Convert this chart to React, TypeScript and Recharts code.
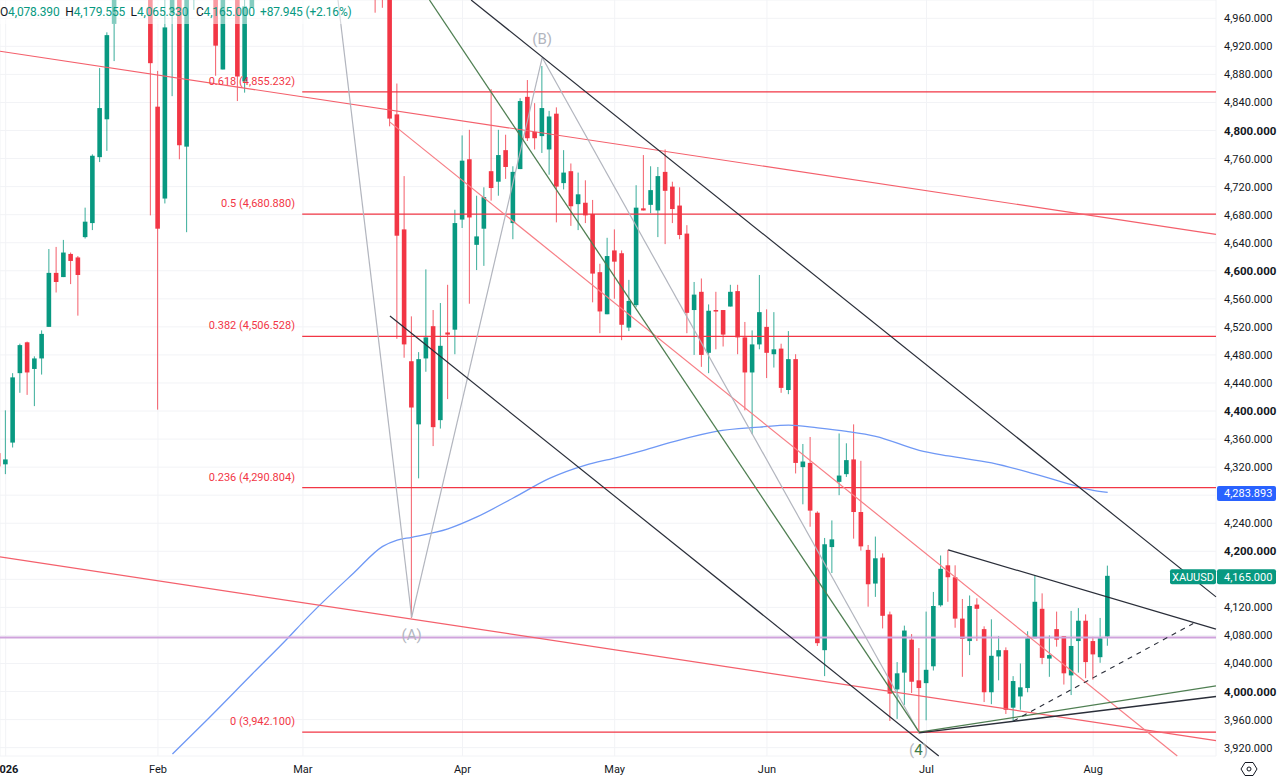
import {
  Bar,
  CartesianGrid,
  ComposedChart,
  Line,
  ReferenceDot,
  ReferenceLine,
  XAxis,
  YAxis,
} from "recharts";

const UP = "#089981";
const DOWN = "#f23645";
const FONT = "Roboto, sans-serif";

// candles, first entry is one session before the 2026 tick; null = above the visible range
const firstIndex = -1;
const n = null;
const opens = [
  4340,
  4324, 4355, 4454, 4498, 4460, 4475, 4520, 4597, 4591, 4624,
  4619, 4648, 4668, 4762, 4816, 4952, n, n, n, n,
  5010, 4834, 4703, 4967, 5010, 4777, 5010, n, n, 5010,
  4887, n, 5010, 4870, 4975, n, n, n, n, n,
  n, n, n, n, n, n, n, n, n, n,
  n, 5010, 5010, 5010, 4823, 4659, 4471, 4381, 4475, 4521,
  4387, 4512, 4516, 4673, 4759, 4637, 4660, 4742, 4727, 4772,
  4668, 4745, 4848, 4798, 4792, 4773, 4824, 4725, 4742, 4695,
  4697, 4681, 4598, 4538, 4629, 4625, 4519, 4551, 4689, 4694,
  4686, 4741, 4720, 4693, 4653, 4544, 4570, 4483, 4544, 4544,
  4549, 4571, 4505, 4455, 4495, 4520, 4481, 4489, 4430, 4474,
  4320, 4326, 4255, 4059, 4206, 4299, 4310, 4331, 4256, 4202,
  4154, 4191, 4110, 4003, 4027, 4074, 4016, 4012, 4036, 4123,
  4180, 4163, 4104, 4072, 4124, 4089, 3999, 4050, 4059, 3977,
  3993, 4005, 4076, 4118, 4047, 4089, 4079, 4023, 4072, 4101,
  4072, 4049, 4078.39,
];
const highs = [
  4345,
  4401, 4454, 4496, 4499, 4478, 4515, 4631, 4634, 4644, 4626,
  4621, 4690, 4766, 4889, 4940, 5020, n, n, n, n,
  5030, 4885, 4990, 5030, 5030, 5030, 5030, n, n, 5030,
  5030, n, 5030, 5030, 5030, n, n, n, n, n,
  n, n, n, n, n, n, n, n, n, n,
  n, 5030, 5030, 5030, 4867, 4735, 4535, 4484, 4602, 4544,
  4554, 4580, 4687, 4793, 4801, 4707, 4719, 4859, 4801, 4794,
  4749, 4846, 4872, 4839, 4892, 4828, 4833, 4772, 4753, 4740,
  4729, 4701, 4610, 4647, 4659, 4629, 4587, 4722, 4765, 4749,
  4748, 4773, 4727, 4719, 4665, 4584, 4589, 4552, 4570, 4544,
  4580, 4580, 4527, 4515, 4594, 4545, 4541, 4496, 4514, 4481,
  4353, 4363, 4257, 4219, 4244, 4368, 4354, 4381, 4329, 4209,
  4221, 4197, 4114, 4042, 4094, 4082, 4062, 4114, 4142, 4194,
  4202, 4180, 4132, 4137, 4133, 4093, 4103, 4079, 4063, 4022,
  4040, 4086, 4165, 4140, 4080, 4114, 4079, 4115, 4119, 4110,
  4078, 4105, 4179.555,
];
const lows = [
  4316,
  4310, 4348, 4426, 4423, 4407, 4452, 4520, 4569, 4591, 4581,
  4536, 4646, 4658, 4755, 4771, 4899, n, n, n, n,
  4679, 4402, 4696, 4849, 4759, 4655, 4972, n, n, 4878,
  4887, n, 4842, 4854, 4975, n, n, n, n, n,
  n, n, n, n, n, n, n, n, n, n,
  n, 4968, 4975, 4806, 4503, 4476, 4105, 4304, 4456, 4350,
  4375, 4417, 4481, 4661, 4553, 4601, 4607, 4700, 4707, 4731,
  4645, 4745, 4785, 4773, 4768, 4737, 4669, 4716, 4664, 4658,
  4668, 4555, 4511, 4538, 4560, 4501, 4514, 4548, 4686, 4682,
  4648, 4638, 4668, 4645, 4511, 4480, 4463, 4454, 4488, 4492,
  4549, 4481, 4401, 4367, 4488, 4447, 4462, 4426, 4424, 4311,
  4267, 4235, 4065, 4022, 4169, 4280, 4306, 4218, 4201, 4121,
  4135, 4090, 3958, 3961, 3981, 3998, 3940, 3959, 4030, 4121,
  4128, 4091, 4021, 4052, 4072, 3985, 3982, 4016, 3968, 3958,
  3974, 3999, 4076, 4039, 4021, 4064, 4010, 3995, 4027, 4019,
  4017, 4041, 4065.33,
];
const closes = [
  4321,
  4331, 4448, 4494, 4455, 4475, 4510, 4597, 4584, 4626, 4614,
  4594, 4670, 4764, 4832, 4936, 5000, n, n, n, n,
  4896, 4660, 4947, 5010, 4779, 5010, 5020, n, n, 4921,
  5010, n, 4877, 4977, 5010, n, n, n, n, n,
  n, n, n, n, n, n, n, n, n, n,
  n, 5000, 5000, 4817, 4650, 4495, 4405, 4474, 4505, 4377,
  4493, 4509, 4668, 4757, 4676, 4649, 4705, 4718, 4765, 4748,
  4741, 4842, 4789, 4789, 4832, 4820, 4720, 4740, 4692, 4709,
  4679, 4596, 4542, 4621, 4613, 4523, 4557, 4690, 4686, 4715,
  4735, 4714, 4688, 4651, 4540, 4566, 4480, 4543, 4543, 4509,
  4570, 4505, 4455, 4495, 4541, 4483, 4488, 4433, 4474, 4326,
  4328, 4258, 4069, 4210, 4217, 4308, 4330, 4256, 4207, 4153,
  4190, 4108, 3997, 4026, 4087, 4014, 4005, 4031, 4122, 4175,
  4163, 4104, 4075, 4122, 4118, 3999, 4051, 4059, 3974, 4015,
  4006, 4076, 4128, 4048, 4052, 4074, 4026, 4065, 4101, 4042,
  4053, 4076, 4165,
];

// moving average, read at a few sessions and joined
const maSessions = [23, 28, 34, 39, 41, 43, 48, 52, 54, 56, 61, 65, 70, 75, 80, 84, 88, 92, 98, 104, 108, 112, 116, 120, 126, 130, 136, 142, 148, 150, 152];
const maValues = [3911, 3962, 4025, 4077, 4099, 4120, 4169, 4207, 4216, 4220, 4232, 4249, 4276, 4304, 4323, 4333, 4344, 4356, 4371, 4377, 4380, 4376, 4371, 4364, 4344, 4336, 4326, 4310, 4292, 4287, 4283.893];

const xMin = -0.786;
const xMax = 166.94;
const yMin = 3908.1;
const yMax = 4986.1;

const monthTicks = [0, 21, 41, 63, 84, 105, 127, 150];
const monthLabels = ["2026", "Feb", "Mar", "Apr", "May", "Jun", "Jul", "Aug"];
const priceTicks = [3920, 3960, 4000, 4040, 4080, 4120, 4160, 4200, 4240, 4280, 4320, 4360, 4400, 4440, 4480, 4520, 4560, 4600, 4640, 4680, 4720, 4760, 4800, 4840, 4880, 4920, 4960];
const coveredTicks = [4160, 4280];

// fib levels
const fibStart = 40.9;
const fibRatios = ["0.618", "0.5", "0.382", "0.236", "0"];
const fibLevels = [4855.232, 4680.88, 4506.528, 4290.804, 3942.1];
const fibLabelAt = 39.9;
const purpleLevel = 4077;

// drawings as [session, price] pairs
const upperChannelRed = [[xMin, 4913], [xMax, 4652]];
const lowerChannelRed = [[xMin, 4192], [xMax, 3930]];
const thinRed = [[53, 4812], [161.6, 3908.1]];
const upperBlack = [[64.2, 4986.1], [xMax, 4135]];
const lowerBlack = [[53, 4535.5], [128.7, 3908.1]];
const wedgeTop = [[130, 4202], [xMax, 4089]];
const wedgeBottom = [[126, 3941], [xMax, 3993]];
const greenDown = [[58.45, 4986.1], [126, 3942]];
const greenUp = [[126, 3942], [xMax, 4008]];
const dashedUp = [[139, 3958], [163.8, 4097]];
const waveLeg1 = [[45.83, 4986.1], [56, 4106]];
const waveLeg2 = [[56, 4106], [74, 4904]];
const waveLeg3 = [[74, 4904], [126, 3941]];

const legendParts = [
  ["O", "4,078.390"],
  ["H", "4,179.555"],
  ["L", "4,065.330"],
  ["C", "4,165.000"],
];
const legendChange = "+87.945 (+2.16%)";

const rows = opens.map((o, k) => {
  const idx = k + firstIndex;
  const m = maSessions.indexOf(idx);
  return {
    idx,
    range: o === null ? null : [lows[k], highs[k]],
    open: o,
    close: closes[k],
    ma: m >= 0 ? maValues[m] : null,
  };
});

function Candle(props: any) {
  const { x, y, width, height, payload } = props;
  if (!payload || payload.open === null || !payload.range) return null;
  const [low, high] = payload.range;
  const perUnit = height / (high - low);
  const at = (p: number) => y + (high - p) * perUnit;
  const color = payload.close >= payload.open ? UP : DOWN;
  const top = at(Math.max(payload.open, payload.close));
  const bottom = at(Math.min(payload.open, payload.close));
  const mid = x + width / 2;
  return (
    <g>
      <line x1={mid} x2={mid} y1={y} y2={y + height} stroke={color} strokeWidth={1} strokeOpacity={0.8} />
      <rect x={x} y={top} width={width} height={Math.max(bottom - top, 1.5)} fill={color} />
    </g>
  );
}

function PriceTick(props: any) {
  const { x, y, payload } = props;
  if (coveredTicks.includes(payload.value)) return null;
  const strong = payload.value % 200 === 0;
  return (
    <text x={x} y={y + 4} fontFamily={FONT} fontSize={strong ? 11.5 : 11} fontWeight={strong ? 700 : 400} fill="#131722">
      {payload.value.toLocaleString("en-US")}.000
    </text>
  );
}

function MonthTick(props: any) {
  const { x, y, payload } = props;
  const label = monthLabels[monthTicks.indexOf(payload.value)];
  return (
    <text x={x} y={y + 4} textAnchor="middle" fontFamily={FONT} fontSize={11} fontWeight={label === "2026" ? 700 : 400} fill="#131722">
      {label}
    </text>
  );
}

function segment(points: number[][], stroke: string, width: number, dash?: string) {
  return (
    <ReferenceLine
      key={points.join("_")}
      segment={[
        { x: points[0][0], y: points[0][1] },
        { x: points[1][0], y: points[1][1] },
      ]}
      stroke={stroke}
      strokeWidth={width}
      strokeDasharray={dash}
      ifOverflow="visible"
    />
  );
}

function waveLabel(text: string, session: number, price: number, color: string) {
  return (
    <ReferenceDot
      key={text}
      x={session}
      y={price}
      ifOverflow="visible"
      shape={(p: any) => (
        <text x={p.cx} y={p.cy + 5} textAnchor="middle" fontFamily={FONT} fontSize={15} fill={color}>
          {text}
        </text>
      )}
    />
  );
}

function axisBadge(text: string, price: number, color: string, withName: boolean) {
  return (
    <ReferenceDot
      key={text}
      x={xMax}
      y={price}
      ifOverflow="visible"
      shape={(p: any) => (
        <g fontFamily={FONT} fontSize={11} fill="#fff">
          {withName && <rect x={p.cx - 46} y={p.cy - 6.5} width={46} height={15} rx={2} fill={color} />}
          {withName && (
            <text x={p.cx - 23} y={p.cy + 5} textAnchor="middle" fill="#fff">
              XAUUSD
            </text>
          )}
          <rect x={p.cx + 1} y={p.cy - 6.5} width={59} height={15} rx={2} fill={color} />
          <text x={p.cx + 8} y={p.cy + 5} fill="#fff">
            {text}
          </text>
        </g>
      )}
    />
  );
}

export default function App() {
  return (
    <div style={{ position: "absolute", left: 0, top: 0, width: 1280, height: 780, background: "#fff", overflow: "hidden" }}>
      <ComposedChart width={1280} height={780} data={rows} margin={{ top: 0, right: 0, bottom: 0, left: 0 }}>
        <CartesianGrid stroke="#f2f3f6" strokeWidth={1} />
        <XAxis
          dataKey="idx"
          type="number"
          domain={[xMin, xMax]}
          allowDataOverflow
          ticks={monthTicks}
          interval={0}
          height={24}
          axisLine={false}
          tickLine={false}
          tickSize={0}
          tickMargin={13}
          tick={<MonthTick />}
        />
        <YAxis
          orientation="right"
          type="number"
          domain={[yMin, yMax]}
          allowDataOverflow
          ticks={priceTicks}
          interval={0}
          width={64}
          axisLine={false}
          tickLine={false}
          tickSize={0}
          tickMargin={8}
          tick={<PriceTick />}
        />
        <Bar dataKey="range" shape={<Candle />} barSize={4.6} isAnimationActive={false} />
        <Line dataKey="ma" type="monotone" connectNulls dot={false} stroke="#6f98f5" strokeWidth={1.3} isAnimationActive={false} />

        {fibLevels.map((level) =>
          segment([[fibStart, level], [xMax, level]], DOWN, 1.2)
        )}
        {segment([[xMin, purpleLevel], [xMax, purpleLevel]], "#cfa3dc", 2)}
        {segment(upperChannelRed, "#f4606c", 1.2)}
        {segment(lowerChannelRed, "#f4606c", 1.2)}
        {segment(thinRed, "#f77f86", 1.2)}
        {segment(waveLeg1, "#b2b5be", 1.2)}
        {segment(waveLeg2, "#b2b5be", 1.2)}
        {segment(waveLeg3, "#b2b5be", 1.2)}
        {segment(greenDown, "#4f7f52", 1.3)}
        {segment(greenUp, "#4f7f52", 1.3)}
        {segment(upperBlack, "#2a2e39", 1.2)}
        {segment(lowerBlack, "#2a2e39", 1.2)}
        {segment(wedgeTop, "#2a2e39", 1.2)}
        {segment(wedgeBottom, "#2a2e39", 1.4)}
        {segment(dashedUp, "#2a2e39", 1.1, "5 5")}

        {fibLevels.map((level, i) => (
          <ReferenceDot
            key={fibRatios[i]}
            x={fibLabelAt}
            y={level}
            ifOverflow="visible"
            shape={(p: any) => (
              <text x={p.cx} y={p.cy - 7} textAnchor="end" fontFamily={FONT} fontSize={11} fill={DOWN}>
                {fibRatios[i]} ({level.toLocaleString("en-US", { minimumFractionDigits: 3 })})
              </text>
            )}
          />
        ))}
        {waveLabel("(A)", 56, 4080, "#b2b5be")}
        {waveLabel("(B)", 74, 4930, "#b2b5be")}
        <ReferenceDot
          x={125.9}
          y={3917}
          ifOverflow="visible"
          shape={(p: any) => (
            <text x={p.cx} y={p.cy + 5} textAnchor="middle" fontFamily={FONT} fontSize={15} fill="#b2b5be">
              (<tspan fill="#3f7a45">4</tspan>)
            </text>
          )}
        />
        {axisBadge("4,283.893", 4283.893, "#2962ff", false)}
        {axisBadge("4,165.000", 4165, UP, true)}
      </ComposedChart>

      <div style={{ position: "absolute", left: 0, top: 0, width: 350, height: 24, background: "rgba(255,255,255,0.5)", fontFamily: FONT, fontSize: 12, lineHeight: "24px", whiteSpace: "nowrap", letterSpacing: -0.15, color: UP }}>
        {legendParts.map(([key, value], i) => (
          <span key={key} style={{ position: "absolute", left: i * 65.3 }}>
            <span style={{ color: "#131722" }}>{key}</span>
            {value}
          </span>
        ))}
        <span style={{ position: "absolute", left: 260 }}>{legendChange}</span>
      </div>

      <svg style={{ position: "absolute", left: 1240, top: 760 }} width={18} height={18} viewBox="0 0 18 18">
        <path d="M5 2.5h8L17 9l-4 6.5H5L1 9z" fill="none" stroke="#131722" strokeWidth={1} />
        <circle cx={9} cy={9} r={2} fill="none" stroke="#131722" strokeWidth={1} />
      </svg>
    </div>
  );
}
